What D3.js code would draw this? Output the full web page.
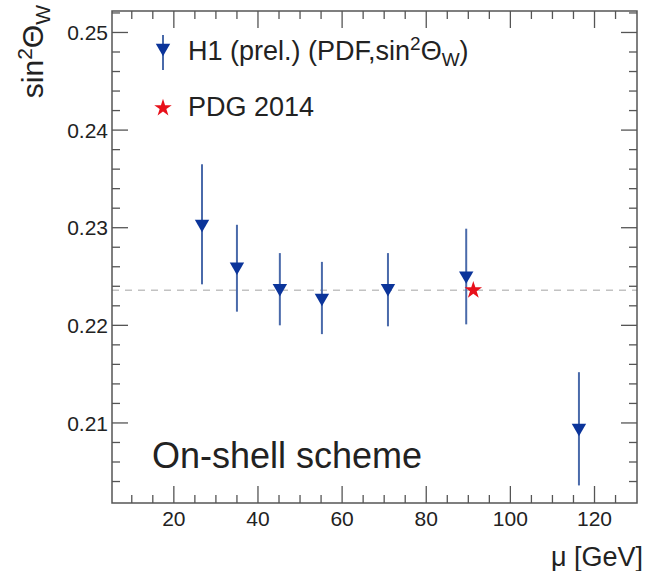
<!DOCTYPE html>
<html>
<head>
<meta charset="utf-8">
<script src="https://cdn.jsdelivr.net/npm/d3@7"></script>
<style>
body { margin: 0; background: #fff; }
text { font-family: "Liberation Sans", Arial, sans-serif; fill: #222; }
</style>
</head>
<body>
<svg id="chart" width="647" height="571"></svg>
<script>
// H1 points: scale mu [GeV], sin2thetaW, error band ends
var mu = [26.7, 35.0, 45.2, 55.2, 70.9, 89.5, 116.3];
var sin2w = [0.2304, 0.2260, 0.2238, 0.2228, 0.2238, 0.2251, 0.2095];
var errHigh = [0.2365, 0.2303, 0.2274, 0.2265, 0.2274, 0.2299, 0.2152];
var errLow = [0.2242, 0.2214, 0.2200, 0.2191, 0.2199, 0.2201, 0.2036];
// PDG 2014 value at the Z mass
var pdgMu = [91.19];
var pdgValue = [0.2236];
var xTicks = [20, 40, 60, 80, 100, 120];
var yTicks = [0.21, 0.22, 0.23, 0.24, 0.25];

var svg = d3.select("#chart");
var frameL = 112, frameR = 637, frameT = 11, frameB = 503;

var x = d3.scaleLinear().domain([5.3, 130.1]).range([frameL, frameR]);
var y = d3.scaleLinear().domain([0.2018, 0.2522]).range([frameB, frameT]);

var frameColor = "#555";
var g = svg.append("g");

// dashed PDG reference line
g.append("line")
	.attr("x1", frameL).attr("x2", frameR)
	.attr("y1", y(pdgValue[0])).attr("y2", y(pdgValue[0]))
	.attr("stroke", "#c2c2c2")
	.attr("stroke-width", 1.5)
	.attr("stroke-dasharray", "7,6");

// frame
g.append("rect")
	.attr("x", frameL).attr("y", frameT)
	.attr("width", frameR - frameL).attr("height", frameB - frameT)
	.attr("fill", "none")
	.attr("stroke", frameColor)
	.attr("stroke-width", 1.5);

// x ticks, bottom and top
var xMinor = d3.range(10, 131, 5).filter(function(v){ return x(v) > frameL + 1 && x(v) < frameR - 1; });
xMinor.forEach(function(v){
	var len = (v % 20 == 0) ? 17 : 8;
	g.append("line").attr("x1", x(v)).attr("x2", x(v))
		.attr("y1", frameB).attr("y2", frameB - len)
		.attr("stroke", frameColor).attr("stroke-width", 1.3);
	g.append("line").attr("x1", x(v)).attr("x2", x(v))
		.attr("y1", frameT).attr("y2", frameT + len)
		.attr("stroke", frameColor).attr("stroke-width", 1.3);
});
xTicks.forEach(function(v){
	g.append("text")
		.attr("x", x(v)).attr("y", frameB + 23)
		.attr("text-anchor", "middle")
		.style("font-size", "21px")
		.text(v);
});

// y ticks, left and right
var yMinor = d3.range(0, 26).map(function(i){ return +(0.202 + i * 0.002).toFixed(3); })
	.filter(function(v){ return y(v) < frameB - 3 && y(v) > frameT + 1; });
yMinor.forEach(function(v){
	var major = Math.abs(Math.round(v * 100) - v * 100) < 1e-6;
	var len = major ? 16 : 8;
	g.append("line").attr("x1", frameL).attr("x2", frameL + len)
		.attr("y1", y(v)).attr("y2", y(v))
		.attr("stroke", frameColor).attr("stroke-width", 1.3);
	g.append("line").attr("x1", frameR).attr("x2", frameR - len)
		.attr("y1", y(v)).attr("y2", y(v))
		.attr("stroke", frameColor).attr("stroke-width", 1.3);
});
yTicks.forEach(function(v){
	g.append("text")
		.attr("x", frameL - 4).attr("y", y(v))
		.attr("dy", "0.36em")
		.attr("text-anchor", "end")
		.style("font-size", "21px")
		.text(v.toFixed(2));
});

// axis titles
g.append("text")
	.attr("x", 643).attr("y", 566)
	.attr("text-anchor", "end")
	.style("font-size", "27px")
	.text("\u03bc [GeV]");

var yt = g.append("text")
	.attr("transform", "translate(43,5) rotate(-90)")
	.attr("text-anchor", "end")
	.style("font-size", "30px");
yt.append("tspan").text("sin");
yt.append("tspan").attr("dy", -11).style("font-size", "21px").text("2");
yt.append("tspan").attr("dy", 11).text("\u0398");
yt.append("tspan").attr("dy", 7).style("font-size", "21px").text("W");

// error bars
var errColor = "#4a6aaa";
var markColor = "#0b349a";
mu.forEach(function(m, i){
	g.append("line")
		.attr("x1", x(m)).attr("x2", x(m))
		.attr("y1", y(errLow[i])).attr("y2", y(errHigh[i]))
		.attr("stroke", errColor)
		.attr("stroke-width", 2);
});

var tri = d3.symbol().type(d3.symbolTriangle).size(90);
mu.forEach(function(m, i){
	g.append("path")
		.attr("d", tri())
		.attr("transform", "translate(" + x(m) + "," + y(sin2w[i]) + ") rotate(180)")
		.attr("fill", markColor);
});

var star = d3.symbol().type(d3.symbolStar).size(95);
pdgMu.forEach(function(m, i){
	g.append("path")
		.attr("d", star())
		.attr("transform", "translate(" + x(m) + "," + y(pdgValue[i]) + ")")
		.attr("fill", "#e8101a");
});

// legend
var leg = svg.append("g");
leg.append("line")
	.attr("x1", 163).attr("x2", 163)
	.attr("y1", 35).attr("y2", 70)
	.attr("stroke", errColor).attr("stroke-width", 2);
leg.append("path")
	.attr("d", tri())
	.attr("transform", "translate(163,48) rotate(180)")
	.attr("fill", markColor);
leg.append("path")
	.attr("d", star())
	.attr("transform", "translate(163,108)")
	.attr("fill", "#e8101a");

var l1 = leg.append("text")
	.attr("x", 188).attr("y", 60)
	.style("font-size", "27px");
l1.append("tspan").text("H1 (prel.) (PDF,sin");
l1.append("tspan").attr("dy", -10).style("font-size", "19px").text("2");
l1.append("tspan").attr("dy", 10).text("\u0398");
l1.append("tspan").attr("dy", 6).style("font-size", "19px").text("W");
l1.append("tspan").attr("dy", -6).text(")");

leg.append("text")
	.attr("x", 188).attr("y", 116)
	.style("font-size", "27px")
	.text("PDG 2014");

// scheme label
g.append("text")
	.attr("x", 152).attr("y", 468)
	.style("font-size", "36px")
	.text("On-shell scheme");
</script>
</body>
</html>
